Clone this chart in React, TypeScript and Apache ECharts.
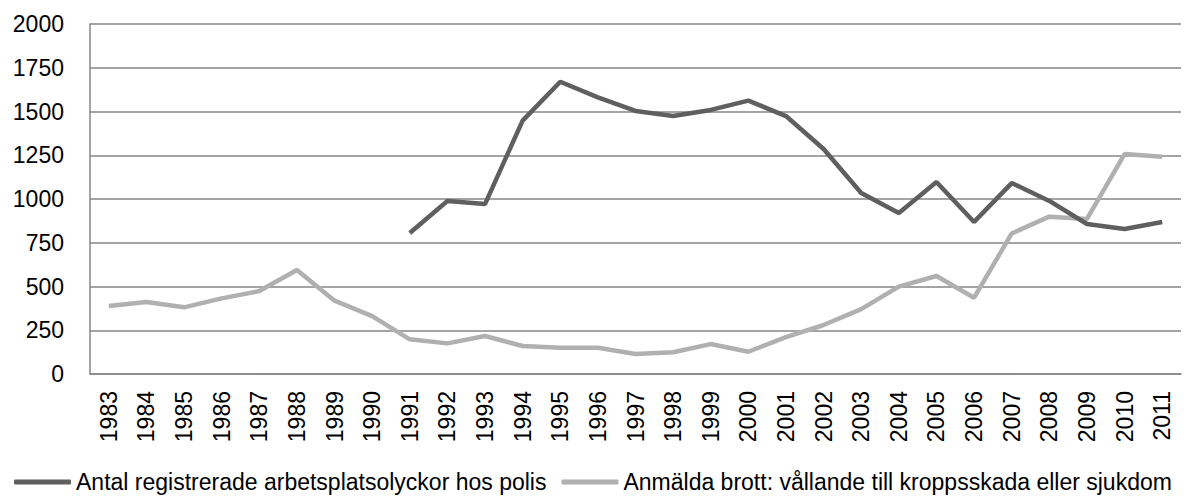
import React, { useEffect, useRef } from "react";
import * as echarts from "echarts";

const years = ["1983","1984","1985","1986","1987","1988","1989","1990","1991","1992","1993","1994","1995","1996","1997","1998","1999","2000","2001","2002","2003","2004","2005","2006","2007","2008","2009","2010","2011"];
const polisName = "Antal registrerade arbetsplatsolyckor hos polis";
const polisValues: (number | null)[] = [null,null,null,null,null,null,null,null,806,989,971,1448,1670,1581,1503,1474,1509,1562,1474,1286,1034,920,1097,869,1091,989,857,829,869];
const brottName = "Anmälda brott: vållande till kroppsskada eller sjukdom";
const brottValues: number[] = [389,411,381,432,474,594,419,331,198,175,217,160,150,150,114,124,171,127,211,280,371,499,560,436,803,899,886,1257,1242];
const yTicks = { min: 0, max: 2000, interval: 250 };

export default function App() {
  const ref = useRef<HTMLDivElement>(null);
  useEffect(() => {
    if (!ref.current) return;
    const chart = echarts.init(ref.current, undefined, { renderer: "svg" });
    const font = "Liberation Sans";
    chart.setOption({
      animation: false,
      grid: { left: 90, right: 5, top: 24, bottom: 123, containLabel: false },
      legend: {
        top: 469,
        left: 14,
        padding: 0,
        itemWidth: 57,
        itemHeight: 5,
        itemGap: 15,
        icon: "roundRect",
        textStyle: { fontFamily: font, fontSize: 23, color: "#000", lineHeight: 26 },
        data: [polisName, brottName],
      },
      xAxis: {
        type: "category",
        data: years,
        boundaryGap: true,
        axisLine: { show: true, lineStyle: { color: "#868686", width: 1.5 } },
        axisTick: { show: false },
        axisLabel: { rotate: 90, fontFamily: font, fontSize: 23, color: "#000", margin: 17, interval: 0 },
        splitLine: { show: false },
      },
      yAxis: {
        type: "value",
        min: yTicks.min,
        max: yTicks.max,
        interval: yTicks.interval,
        axisLine: { show: true, lineStyle: { color: "#868686", width: 1.5 } },
        axisTick: { show: false },
        axisLabel: { fontFamily: font, fontSize: 23, color: "#000", margin: 26, formatter: (v: number) => String(v) },
        splitLine: { show: true, lineStyle: { color: "#868686", width: 1.5 } },
      },
      series: [
        {
          name: polisName,
          type: "line",
          data: polisValues,
          symbol: "none",
          connectNulls: false,
          lineStyle: { color: "#5f5f5f", width: 4.5 },
          itemStyle: { color: "#5f5f5f" },
          z: 3,
        },
        {
          name: brottName,
          type: "line",
          data: brottValues,
          symbol: "none",
          lineStyle: { color: "#b0b0b0", width: 4.5 },
          itemStyle: { color: "#b0b0b0" },
          z: 2,
        },
      ],
    });
    return () => chart.dispose();
  }, []);
  return <div ref={ref} style={{ width: 1186, height: 497, position: "absolute", left: 0, top: 0 }} />;
}
